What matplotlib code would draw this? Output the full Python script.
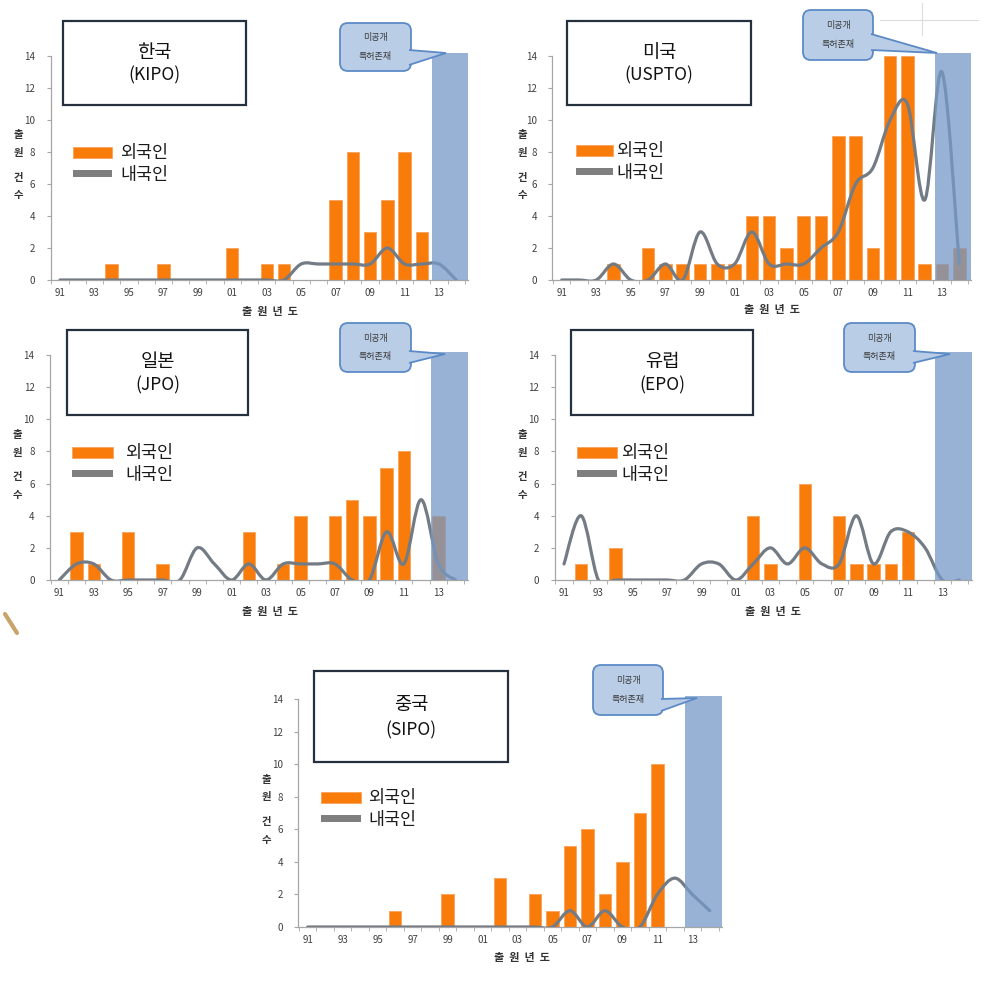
import matplotlib
matplotlib.use('Agg')
import matplotlib.pyplot as plt
from matplotlib.path import Path
from matplotlib.patches import PathPatch, Rectangle, FancyBboxPatch, Polygon
from matplotlib.lines import Line2D
from matplotlib.transforms import Affine2D

plt.rcParams['font.family'] = ['Noto Sans CJK KR', 'DejaVu Sans']

W, H = 993, 982

# 1991 .. 2014, one value per year
YEARS = ['91', '92', '93', '94', '95', '96', '97', '98', '99', '00', '01', '02',
         '03', '04', '05', '06', '07', '08', '09', '10', '11', '12', '13', '14']

kipo_foreign = [0, 0, 0, 1, 0, 0, 1, 0, 0, 0, 2, 0, 1, 1, 0, 0, 5, 8, 3, 5, 8, 3, 0, 0]
kipo_domestic = [0, 0, 0, 0, 0, 0, 0, 0, 0, 0, 0, 0, 0, 0, 1, 1, 1, 1, 1, 2, 1, 1, 1, 0]

uspto_foreign = [0, 0, 0, 1, 0, 2, 1, 1, 1, 1, 1, 4, 4, 2, 4, 4, 9, 9, 2, 14, 14, 1, 1, 2]
uspto_domestic = [0, 0, 0, 1, 0, 0, 1, 0, 3, 1, 1, 3, 1, 1, 1, 2, 3, 6, 7, 10, 11, 5, 13, 1]

jpo_foreign = [0, 3, 1, 0, 3, 0, 1, 0, 0, 0, 0, 3, 0, 1, 4, 0, 4, 5, 4, 7, 8, 0, 4, 0]
jpo_domestic = [0, 1, 1, 0, 0, 0, 0, 0, 2, 1, 0, 1, 0, 1, 1, 1, 1, 0, 0, 3, 1, 5, 1, 0]

epo_foreign = [0, 1, 0, 2, 0, 0, 0, 0, 0, 0, 0, 4, 1, 0, 6, 0, 4, 1, 1, 1, 3, 0, 0, 0]
epo_domestic = [1, 4, 0, 0, 0, 0, 0, 0, 1, 1, 0, 1, 2, 1, 2, 1, 1, 4, 1, 3, 3, 2, 0, 0]

sipo_foreign = [0, 0, 0, 0, 0, 1, 0, 0, 2, 0, 0, 3, 0, 2, 1, 5, 6, 2, 4, 7, 10, 0, 0, 0]
sipo_domestic = [0, 0, 0, 0, 0, 0, 0, 0, 0, 0, 0, 0, 0, 0, 0, 1, 0, 1, 0, 0, 2, 3, 2, 1]

ORANGE = '#F97B0A'
GRAY = '#737B84'
SHADE = '#7599C8'

fig = plt.figure(figsize=(W / 100, H / 100), dpi=100)
# pixel coordinates measured from the top-left corner
pix = Affine2D().scale(1 / 100, -1 / 100).translate(0, H / 100) + fig.dpi_scale_trans


def smooth_path(ys):
    # Excel-like smoothed line: cubic Bezier segments through the points
    n = len(ys)
    pts = [(i, ys[i]) for i in range(n)]
    verts = [pts[0]]
    codes = [Path.MOVETO]
    for i in range(n - 1):
        p0 = pts[i - 1] if i > 0 else pts[i]
        p1, p2 = pts[i], pts[i + 1]
        p3 = pts[i + 2] if i + 2 < n else pts[i + 1]
        c1 = (p1[0] + (p2[0] - p0[0]) / 6, p1[1] + (p2[1] - p0[1]) / 6)
        c2 = (p2[0] - (p3[0] - p1[0]) / 6, p2[1] - (p3[1] - p1[1]) / 6)
        verts += [c1, c2, p2]
        codes += [Path.CURVE4] * 3
    return Path(verts, codes)


def panel(anchor, foreign, domestic, name, office, box, leg, note, xlab, ylab):
    px0, px22, py0, py14 = anchor
    sx = (px22 - px0) / 22
    sy = (py0 - py14) / 14
    xl, xr, yt = -0.55, 23.7, 14.25
    left = px0 + xl * sx
    right = px0 + xr * sx
    top = py0 - yt * sy
    ax = fig.add_axes([left / W, 1 - py0 / H, (right - left) / W, (py0 - top) / H])
    ax.set_xlim(xl, xr)
    ax.set_ylim(0, yt)
    x = list(range(len(YEARS)))
    ax.bar(x, foreign, width=0.72, color=ORANGE, edgecolor='#FBA25A', linewidth=0.6, zorder=2)
    ax.add_patch(PathPatch(smooth_path(domestic), fill=False, edgecolor=GRAY, lw=2.3,
                           capstyle='round', joinstyle='round', zorder=3))
    ax.add_patch(Rectangle((21.6, 0), 2.1, 14.2, facecolor=SHADE, alpha=0.75,
                           edgecolor='none', zorder=4, clip_on=False))
    for s in ['top', 'right']:
        ax.spines[s].set_visible(False)
    for s in ['left', 'bottom']:
        ax.spines[s].set_color('#A6A6A6')
        ax.spines[s].set_linewidth(0.9)
    ax.spines['left'].set_bounds(0, 14)
    ax.set_yticks(range(0, 15, 2))
    ax.set_xticks(x[::2])
    ax.set_xticklabels(YEARS[::2])
    ax.set_xticks([i - 0.5 for i in x] + [23.5], minor=True)
    ax.tick_params(axis='y', length=3, color='#A6A6A6', labelsize=7, labelcolor='#404040', pad=8)
    ax.tick_params(axis='x', which='major', length=0, labelsize=7, labelcolor='#404040', pad=6)
    ax.tick_params(axis='x', which='minor', length=3, color='#A6A6A6')

    # title box
    bx0, by0, bx1, by1 = box
    fig.add_artist(Rectangle((bx0, by0), bx1 - bx0, by1 - by0, transform=pix,
                             facecolor='white', edgecolor='#26313F', lw=1.6))
    cx = (bx0 + bx1) / 2
    fig.text(cx, by0 + (by1 - by0) * 0.37, name, transform=pix, ha='center', va='center',
             fontsize=13.5, fontweight='medium', color='#111111')
    fig.text(cx, by0 + (by1 - by0) * 0.65, office, transform=pix, ha='center', va='center',
             fontsize=12.5, color='#111111')

    # legend
    lx0, lx1, ly, tx = leg
    fig.add_artist(Rectangle((lx0, ly), lx1 - lx0, 11, transform=pix, facecolor=ORANGE,
                             edgecolor='#FBA25A', lw=0.6))
    fig.add_artist(Rectangle((lx0, ly + 23), lx1 - lx0, 7, transform=pix, facecolor='#7F7F7F',
                             edgecolor='none'))
    fig.text(tx, ly + 6, '외국인', transform=pix, ha='left', va='center', fontsize=12.5, color='#1A1A1A')
    fig.text(tx, ly + 28, '내국인', transform=pix, ha='left', va='center', fontsize=12.5, color='#1A1A1A')

    # callout
    cx0, cy0, cx1, cy1, tip, base = note
    fig.add_artist(FancyBboxPatch((cx0, cy0), cx1 - cx0, cy1 - cy0,
                                  boxstyle='round,pad=0,rounding_size=8', transform=pix,
                                  facecolor='#B9CDE6', edgecolor='#5C8AC6', lw=1.3))
    fig.add_artist(Polygon([(cx1 - 2, base[0]), tip, (cx1 - 2, base[1])], closed=False,
                           transform=pix, facecolor='#B9CDE6', edgecolor='#5C8AC6', lw=1.3))
    ccx = (cx0 + cx1) / 2
    ccy = (cy0 + cy1) / 2
    fig.text(ccx, ccy - 9.5, '미공개', transform=pix, ha='center', va='center', fontsize=6.5,
             color='#3A3A3A')
    fig.text(ccx, ccy + 9.5, '특허존재', transform=pix, ha='center', va='center', fontsize=6.5,
             color='#3A3A3A')

    # axis titles
    fig.text(xlab[0], xlab[1], '출  원  년  도', transform=pix, ha='center', va='center',
             fontsize=8, fontweight='bold', color='#333333')
    yx, ys = ylab
    for ch, yy in zip(['출', '원', '건', '수'], ys):
        fig.text(yx, yy, ch, transform=pix, ha='center', va='center', fontsize=7.5,
                 fontweight='bold', color='#333333')
    return ax


panel((60, 439, 280, 56), kipo_foreign, kipo_domestic, '한국', '(KIPO)',
      (63, 21, 246, 105), (73, 112, 147, 120),
      (340, 23, 411, 71, (446, 53), (50, 65)),
      (270, 311), (18, [135, 153, 178, 195]))

panel((561.7, 942, 280, 56), uspto_foreign, uspto_domestic, '미국', '(USPTO)',
      (567, 21, 751, 105), (576, 613, 145, 616),
      (803, 10, 873, 60, (937, 53), (34, 50)),
      (772, 310), (522, [135, 153, 178, 195]))

panel((59.3, 438.3, 580, 355), jpo_foreign, jpo_domestic, '일본', '(JPO)',
      (67, 330, 248, 415), (72, 113, 447, 125),
      (340, 323, 411, 372, (445, 354), (351, 363)),
      (270, 611), (17, [435, 453, 477, 495]))

panel((564, 942.3, 580, 355), epo_foreign, epo_domestic, '유럽', '(EPO)',
      (571, 330, 753, 415), (577, 617, 447, 621),
      (844, 323, 915, 372, (950, 354), (351, 363)),
      (773, 611), (522, [435, 453, 477, 495]))

panel((307.7, 692.3, 927, 699), sipo_foreign, sipo_domestic, '중국', '(SIPO)',
      (314, 671, 508, 762), (321, 361, 792, 368),
      (593, 665, 663, 715, (697, 698), (699, 711)),
      (522, 958), (266, [780, 797, 822, 840]))

# faint slide remnants
fig.add_artist(Line2D([880, 978], [20, 20], transform=pix, color='#DCDCDC', lw=0.8))
fig.add_artist(Line2D([922, 922], [3, 35], transform=pix, color='#DCDCDC', lw=0.8))
fig.add_artist(Line2D([5, 17], [614, 633], transform=pix, color='#C9A46A', lw=3,
                      solid_capstyle='round'))

fig.savefig('out.png', dpi=100)
